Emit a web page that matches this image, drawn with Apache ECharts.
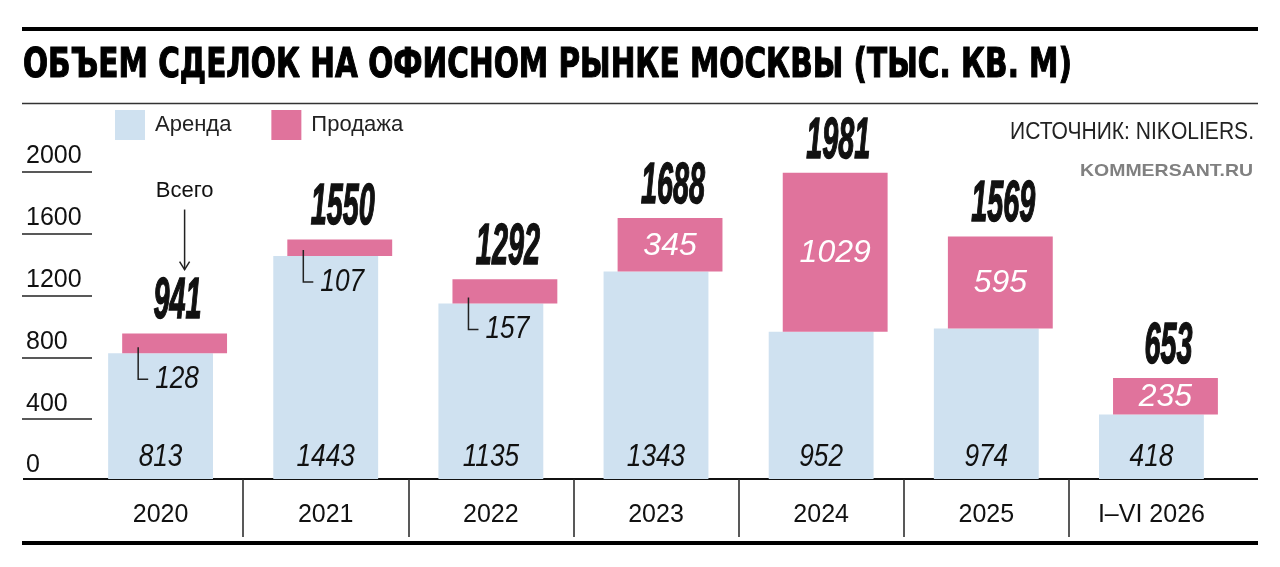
<!DOCTYPE html>
<html>
<head>
<meta charset="utf-8">
<script src="https://cdn.jsdelivr.net/npm/echarts@6/dist/echarts.min.js"></script>
<style>
html,body{margin:0;padding:0;background:#fff;}
#chart{width:1280px;height:567px;}
</style>
</head>
<body>
<div id="chart"></div>
<script>
const categories = ['2020', '2021', '2022', '2023', '2024', '2025', 'I–VI 2026'];
const rentValues = [813, 1443, 1135, 1343, 952, 974, 418];
const saleValues = [128, 107, 157, 345, 1029, 595, 235];
const totalValues = [941, 1550, 1292, 1688, 1981, 1569, 653];
const yTickLabels = ['0', '400', '800', '1200', '1600', '2000'];

const BLUE = '#cfe1f0';
const PINK = '#e0739c';
const INK = '#111111';
const SANS = "'Liberation Sans', Arial, sans-serif";
const NARROW_X = 0.82;

function fitScale(text, font, width) {
  const ctx = document.createElement('canvas').getContext('2d');
  ctx.font = font;
  return width / ctx.measureText(text).width;
}

const TITLE = 'ОБЪЕМ СДЕЛОК НА ОФИСНОМ РЫНКЕ МОСКВЫ (ТЫС. КВ. М)';
const titleFont = "bold 41px 'DejaVu Sans'";
const titleScale = fitScale(TITLE, titleFont, 1049);
const SRC = 'ИСТОЧНИК: NIKOLIERS.';
const srcFont = "23px 'Liberation Sans'";
const srcScale = fitScale(SRC, srcFont, 244);
const KOM = 'KOMMERSANT.RU';
const komFont = "bold 17px 'Liberation Sans'";
const komScale = fitScale(KOM, komFont, 173);

const saleData = categories.map((c, i) => [i, rentValues[i], rentValues[i] + saleValues[i], saleValues[i], totalValues[i]]);

function numText(x, y, text, opts) {
  const style = {
    text: text, align: opts.align || 'center', verticalAlign: 'middle',
    fontSize: opts.size || 32, fontWeight: opts.weight || 'normal', fontStyle: 'italic',
    fontFamily: SANS, fill: opts.fill || INK
  };
  if (opts.stroke) { style.stroke = opts.fill || INK; style.lineWidth = opts.stroke; }
  return { type: 'text', x: x, y: y, scaleX: opts.sx || 1, scaleY: opts.sy || 1, style: style };
}

function renderSale(params, api) {
  const i = api.value(0);
  const r = api.value(1);
  const top = api.value(2);
  const s = api.value(3);
  const t = api.value(4);
  const bw = api.size([1, 0])[0];
  const w = bw * 0.635;
  const off = bw * 0.085;
  const base = api.coord([i, 0]);
  const cx = base[0];
  const y0 = base[1];
  const yBot = api.coord([i, r])[1];
  const yTop = api.coord([i, top])[1];
  const x0 = cx - w / 2 + off;
  const kids = [
    { type: 'rect', shape: { x: x0, y: yTop, width: w, height: yBot - yTop }, style: { fill: PINK } },
    numText(cx, y0 - 22, String(r), { size: 32, sx: NARROW_X }),
    numText(x0 + w / 2 + 3, yTop - 31, String(t), { size: 40, weight: 'bold', sx: 0.72, sy: 1.43, stroke: 1.1 })
  ];
  if (s >= 200) {
    kids.push(numText(x0 + w / 2, (yTop + yBot) / 2 + 1, String(s), { size: 32, fill: '#ffffff' }));
  } else {
    kids.push({ type: 'polyline', shape: { points: [[x0 + 16, yBot - 6], [x0 + 16, yBot + 26], [x0 + 26, yBot + 26]] },
      style: { stroke: '#222', lineWidth: 1.5, fill: null } });
    kids.push(numText(x0 + 33, yBot + 26, String(s), { size: 32, sx: NARROW_X, align: 'left' }));
  }
  if (i === 0) {
    const ax = x0 + w / 2 + 10;
    kids.push({ type: 'text', x: ax, y: yTop - 143,
      style: { text: 'Всего', align: 'center', verticalAlign: 'middle', fontSize: 22, fontFamily: SANS, fill: INK } });
    kids.push({ type: 'line', shape: { x1: ax, y1: yTop - 124, x2: ax, y2: yTop - 64 }, style: { stroke: '#222', lineWidth: 1.5 } });
    kids.push({ type: 'polyline', shape: { points: [[ax - 5, yTop - 72], [ax, yTop - 64], [ax + 5, yTop - 72]] },
      style: { stroke: '#222', lineWidth: 1.5, fill: null } });
  }
  return { type: 'group', children: kids };
}

const chart = echarts.init(document.getElementById('chart'), null, { renderer: 'canvas' });
chart.setOption({
  animation: false,
  backgroundColor: '#ffffff',
  legend: {
    left: 115, top: 110, padding: 0,
    itemWidth: 30, itemHeight: 30, itemGap: 40,
    icon: 'rect',
    data: ['Аренда', 'Продажа'],
    textStyle: { fontSize: 22, fontFamily: SANS, color: '#222', padding: [3, 0, 0, 5] },
    selectedMode: false
  },
  grid: [
    { left: 78, right: 46, top: 108, bottom: 88 },
    { left: 22, width: 70, top: 172, bottom: 86 },
    { left: 78, right: 46, top: 479, height: 58 }
  ],
  xAxis: [
    { type: 'category', gridIndex: 0, data: categories,
      axisLine: { show: false }, axisTick: { show: false },
      axisLabel: { margin: 24, fontSize: 25, fontFamily: SANS, color: INK, interval: 0 } },
    { type: 'value', gridIndex: 1, show: false },
    { type: 'category', gridIndex: 2, data: categories,
      axisLine: { show: false }, axisTick: { show: false }, axisLabel: { show: false },
      splitLine: { show: true, interval: 0, showMinLine: false, showMaxLine: false, lineStyle: { color: '#222', width: 1.5 } } }
  ],
  yAxis: [
    { type: 'value', gridIndex: 0, min: 0, max: 2400, show: false },
    { type: 'value', gridIndex: 1, min: 0, max: 2000, interval: 400,
      axisLine: { show: false }, axisTick: { show: false },
      axisLabel: { inside: true, margin: 4, verticalAlign: 'bottom', padding: [0, 0, 3, 0], fontSize: 25, fontFamily: SANS, color: INK,
        formatter: (v) => yTickLabels[Math.round(v / 400)] },
      splitLine: { show: true, showMinLine: false, lineStyle: { color: '#222', width: 1.5 } } },
    { type: 'value', gridIndex: 2, show: false }
  ],
  graphic: [
    { type: 'line', shape: { x1: 22, y1: 29, x2: 1258, y2: 29 }, style: { stroke: '#000', lineWidth: 4 } },
    { type: 'text', x: 23, y: 66, scaleX: titleScale,
      style: { text: TITLE, font: titleFont, verticalAlign: 'middle', align: 'left', fill: '#000', stroke: '#000', lineWidth: 1.2 } },
    { type: 'line', shape: { x1: 22, y1: 103.5, x2: 1258, y2: 103.5 }, style: { stroke: '#333', lineWidth: 1.5 } },
    { type: 'text', x: 1254, y: 133, scaleX: srcScale,
      style: { text: SRC, align: 'right', verticalAlign: 'middle', font: srcFont, fill: '#222' } },
    { type: 'text', x: 1253, y: 171, scaleX: komScale,
      style: { text: KOM, align: 'right', verticalAlign: 'middle', font: komFont, fill: '#808080' } },
    { type: 'line', shape: { x1: 23, y1: 479, x2: 1258, y2: 479 }, style: { stroke: '#111', lineWidth: 2 } },
    { type: 'line', shape: { x1: 22, y1: 543, x2: 1258, y2: 543 }, style: { stroke: '#000', lineWidth: 4 } }
  ],
  series: [
    { type: 'bar', name: 'Аренда', xAxisIndex: 0, yAxisIndex: 0, data: rentValues,
      barWidth: '63.5%', itemStyle: { color: BLUE }, silent: true, z: 2 },
    { type: 'custom', name: 'Продажа', xAxisIndex: 0, yAxisIndex: 0, data: saleData, z: 5,
      encode: { x: 0, y: [1, 2] }, itemStyle: { color: PINK }, renderItem: renderSale, silent: true }
  ]
});
</script>
</body>
</html>
